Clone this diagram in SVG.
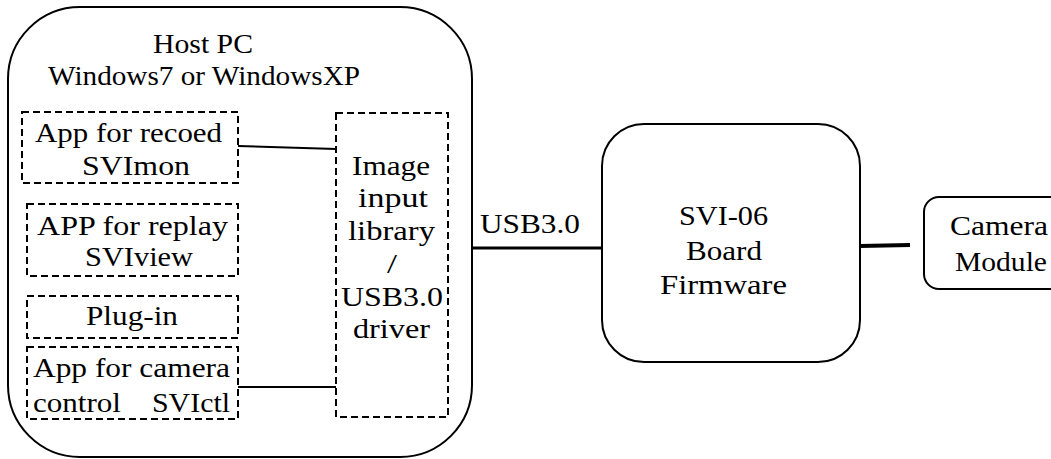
<svg xmlns="http://www.w3.org/2000/svg" width="1051" height="459" viewBox="0 0 1051 459" font-family="Liberation Serif, DejaVu Serif, serif" font-size="27">
<style>
  .t { font-family: 'Liberation Serif', 'DejaVu Serif', serif; font-size: 27px; fill: #000; }
  .solid { fill: #fff; stroke: #000; stroke-width: 2; }
  .dash { fill: none; stroke: #000; stroke-width: 2; stroke-dasharray: 7 4; }
  .conn { stroke: #000; fill: none; }
</style>
<rect width="1051" height="459" fill="#fff"/>
<g id="host-pc">
  <rect class="solid" x="8" y="7" width="464" height="450" rx="72" ry="72"/>
  <text class="t" x="153" y="53" textLength="100" lengthAdjust="spacingAndGlyphs">Host PC</text>
  <text class="t" x="48" y="85" textLength="312" lengthAdjust="spacingAndGlyphs">Windows7 or WindowsXP</text>
</g>
<g id="app-recoed">
  <rect class="dash" x="22" y="112" width="216" height="71"/>
  <text class="t" x="35" y="142" textLength="187" lengthAdjust="spacingAndGlyphs">App for recoed</text>
  <text class="t" x="82" y="175" textLength="108" lengthAdjust="spacingAndGlyphs">SVImon</text>
</g>
<g id="app-replay">
  <rect class="dash" x="27" y="204" width="211" height="72"/>
  <text class="t" x="37" y="235" textLength="191" lengthAdjust="spacingAndGlyphs">APP for replay</text>
  <text class="t" x="85" y="266" textLength="108" lengthAdjust="spacingAndGlyphs">SVIview</text>
</g>
<g id="plug-in">
  <rect class="dash" x="27" y="296" width="211" height="42"/>
  <text class="t" x="86" y="325" textLength="92" lengthAdjust="spacingAndGlyphs">Plug-in</text>
</g>
<g id="app-camera">
  <rect class="dash" x="27" y="347" width="211" height="72"/>
  <text class="t" x="33" y="377" textLength="197" lengthAdjust="spacingAndGlyphs">App for camera</text>
  <text class="t" x="33" y="412" textLength="88" lengthAdjust="spacingAndGlyphs">control</text>
  <text class="t" x="152" y="412" textLength="78" lengthAdjust="spacingAndGlyphs">SVIctl</text>
</g>
<g id="image-library">
  <rect class="dash" x="336" y="113" width="112" height="304"/>
  <text class="t" x="352" y="175" textLength="78" lengthAdjust="spacingAndGlyphs">Image</text>
  <text class="t" x="358" y="207" textLength="70" lengthAdjust="spacingAndGlyphs">input</text>
  <text class="t" x="348" y="240" textLength="87" lengthAdjust="spacingAndGlyphs">library</text>
  <text class="t" x="387" y="273" textLength="10" lengthAdjust="spacingAndGlyphs">/</text>
  <text class="t" x="341" y="306" textLength="102" lengthAdjust="spacingAndGlyphs">USB3.0</text>
  <text class="t" x="353" y="338" textLength="77" lengthAdjust="spacingAndGlyphs">driver</text>
</g>
<g id="svi-board">
  <rect class="solid" x="602" y="124" width="258" height="238" rx="42" ry="42"/>
  <text class="t" x="679" y="225" textLength="89" lengthAdjust="spacingAndGlyphs">SVI-06</text>
  <text class="t" x="686" y="260" textLength="76" lengthAdjust="spacingAndGlyphs">Board</text>
  <text class="t" x="660" y="294" textLength="127" lengthAdjust="spacingAndGlyphs">Firmware</text>
</g>
<g id="camera-module">
  <rect class="solid" x="924" y="197" width="150" height="92" rx="15" ry="15"/>
  <text class="t" x="950" y="235" textLength="98" lengthAdjust="spacingAndGlyphs">Camera</text>
  <text class="t" x="955" y="271" textLength="92" lengthAdjust="spacingAndGlyphs">Module</text>
</g>
<g id="connectors">
  <polyline class="conn" stroke-width="2" points="238,146 336,149"/>
  <line class="conn" stroke-width="2" x1="238" y1="387" x2="336" y2="387"/>
  <line class="conn" stroke-width="3" x1="472" y1="248" x2="602" y2="248"/>
  <line class="conn" stroke-width="4" x1="860" y1="246" x2="910" y2="245"/>
  <text class="t" x="480" y="233" textLength="100" lengthAdjust="spacingAndGlyphs">USB3.0</text>
</g>
</svg>
